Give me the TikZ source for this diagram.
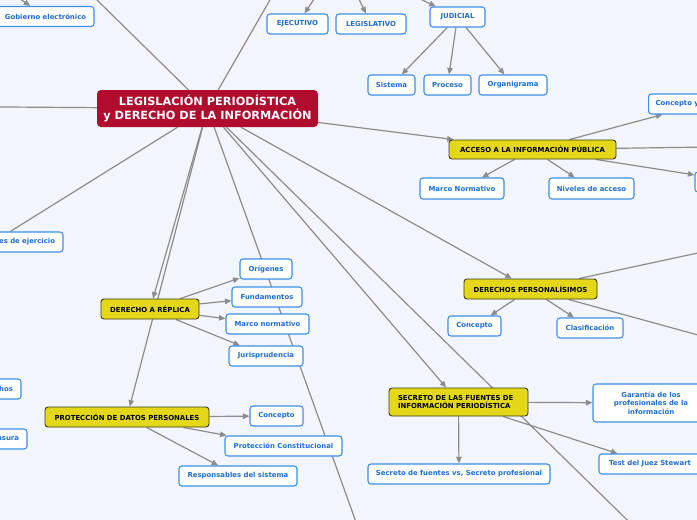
\documentclass[tikz,border=0pt]{standalone}
\usepackage{fontspec}
\setmainfont{DejaVu Sans}
\usetikzlibrary{arrows.meta,backgrounds}
\definecolor{bgc}{HTML}{F2F5FE}
\definecolor{edgec}{HTML}{8C8C8C}
\definecolor{bluebd}{HTML}{3D8EEA}
\definecolor{bluetx}{HTML}{1C6ED6}
\definecolor{yellowf}{HTML}{E3D718}
\definecolor{yellowbd}{HTML}{3C3A1A}
\definecolor{mainf}{HTML}{B00C2D}
\tikzset{
  leaf/.style={draw=bluebd, line width=1.1pt, fill=white, rounded corners=3pt, text=bluetx,
    font=\fontsize{6.9}{8.6}\selectfont\bfseries, inner sep=0pt, minimum height=20pt},
  topic/.style={fill=yellowf, draw=yellowbd, line width=0.9pt, rounded corners=3pt, text=black,
    font=\fontsize{6.9}{8.6}\selectfont\bfseries, inner sep=0pt, minimum height=20pt},
  root/.style={fill=mainf, rounded corners=4pt, text=white, font=\fontsize{11.3}{13.8}\selectfont\bfseries,
    align=center, inner sep=0pt, minimum width=221pt, minimum height=37pt},
  conn/.style={draw=edgec, line width=1.2pt},
  arr/.style={conn, -{Triangle[length=6.5pt,width=5.5pt]}},
}
\begin{document}
\begin{tikzpicture}[x=1pt,y=-1pt]
\useasboundingbox (0,0) rectangle (697,520);
\begin{scope}
\clip (0,0) rectangle (697,520);
% root
\node[root] (main) at (207.5,108.5) {\rule{0pt}{9pt}LEGISLACIÓN PERIODÍSTICA\\y DERECHO DE LA INFORMACIÓN};
% top area
\node[leaf, minimum width=97pt] (gob) at (45.5,16.5) {Gobierno electrónico};
\node[leaf, minimum width=61pt] (ejec) at (297.5,24) {EJECUTIVO};
\node[leaf, minimum width=70pt] (legis) at (371,24) {LEGISLATIVO};
\node[leaf, minimum width=55pt] (judicial) at (457.5,17) {JUDICIAL};
\node[leaf, minimum width=47pt] (sistema) at (391.5,85) {Sistema};
\node[leaf, minimum width=47pt] (proceso) at (447.5,85) {Proceso};
\node[leaf, minimum width=68pt] (organigrama) at (513,85) {Organigrama};
% acceso
\node[topic, minimum width=167pt, minimum height=19pt] (acceso) at (532.5,149.5) {ACCESO A LA INFORMACIÓN PÚBLICA};
\node[leaf, anchor=west, text width=92pt, align=left, inner xsep=7pt, minimum width=106pt] (conceptoY) at (648,104) {Concepto y};
\node[leaf, minimum width=84pt, minimum height=21pt] (marcoN) at (462,188.5) {Marco Normativo};
\node[leaf, minimum width=85pt, minimum height=21pt] (niveles) at (591.5,188.5) {Niveles de acceso};
\node[leaf, minimum width=90pt] (offR) at (740,182) {};
% left side
\node[leaf, text width=123pt, align=right, inner xsep=8pt] (esEj) at (-6.5,242) {es de ejercicio};
\node[leaf, text width=64pt, align=right, inner xsep=8pt] (hos) at (-19,389) {hos};
\node[leaf, text width=64pt, align=right, inner xsep=8pt] (nsura) at (-13,439) {nsura};
% derechos personalisimos
\node[topic, minimum width=133pt] (derechos) at (530.5,289) {DERECHOS PERSONALÍSIMOS};
\node[leaf, minimum width=53pt] (concepto2) at (474.5,326) {Concepto};
\node[leaf, minimum width=66pt] (clasif) at (590,328) {Clasificación};
% replica
\node[topic, minimum width=98pt] (replica) at (150,309) {DERECHO A RÉPLICA};
\node[leaf, minimum width=52pt] (origenes) at (266,269) {Orígenes};
\node[leaf, minimum width=70pt] (fund) at (267,297) {Fundamentos};
\node[leaf, minimum width=83pt] (marcon2) at (267.5,324) {Marco normativo};
\node[leaf, minimum width=74pt] (juris) at (266,356) {Jurisprudencia};
% proteccion
\node[topic, minimum width=164pt] (protec) at (127,417) {PROTECCIÓN DE DATOS PERSONALES};
\node[leaf, minimum width=53pt] (concepto3) at (276.5,416) {Concepto};
\node[leaf, minimum width=117pt] (protConst) at (283.5,446) {Protección Constitucional};
\node[leaf, minimum width=118pt] (resp) at (238,476) {Responsables del sistema};
% secreto
\node[topic, text width=121pt, align=left, inner xsep=9pt, minimum height=28pt] (secreto) at (458.5,402) {SECRETO DE LAS FUENTES DE\\INFORMACIÓN PERIODÍSTICA};
\node[leaf, minimum width=116pt, minimum height=38pt, align=center] (garantia) at (651,403) {Garantía de los\\profesionales de la\\información};
\node[leaf, minimum width=182pt] (secVs) at (459,474) {Secreto de fuentes vs, Secreto profesional};
\node[leaf, minimum width=102pt] (test) at (650,464) {Test del Juez Stewart};
% off-canvas ends
\coordinate (ulP) at (-13.5,-108.5);
\coordinate (urP) at (301,-54);
\coordinate (leftP) at (-60,106.5);
\coordinate (botP) at (370,561);
\coordinate (brP) at (669,561);
\coordinate (poderes) at (340,-40);
\coordinate (gobP) at (0,-15);
\coordinate (accR) at (780,146);
\coordinate (derUR) at (800,231);
\coordinate (derDR) at (800,363);
\end{scope}
\begin{pgfonlayer}{background}
\clip (0,0) rectangle (697,520);
\fill[bgc] (0,0) rectangle (697,520);
% root connectors
\draw[conn] (main) -- (ulP);
\draw[conn] (main) -- (urP);
\draw[conn] (main) -- (leftP);
\draw[conn] (main) -- (botP);
\draw[conn] (main) -- (brP);
\draw[conn] (main) -- (esEj);
\draw[arr] (main) -- (acceso);
\draw[arr] (main) -- (derechos);
\draw[arr] (main) -- (secreto);
\draw[arr] (main) -- (replica);
\draw[arr] (main) -- (protec);
% top
\draw[arr] (gobP) -- (gob);
\draw[arr] (poderes) -- (ejec);
\draw[arr] (poderes) -- (legis);
\draw[arr] (poderes) -- (judicial);
\draw[arr] (judicial) -- (sistema);
\draw[arr] (judicial) -- (proceso);
\draw[arr] (judicial) -- (organigrama);
% acceso
\draw[arr] (acceso) -- (conceptoY);
\draw[arr] (acceso) -- (marcoN);
\draw[arr] (acceso) -- (niveles);
\draw[arr] (acceso) -- (offR);
\draw[arr] (acceso) -- (accR);
% derechos
\draw[arr] (derechos) -- (concepto2);
\draw[arr] (derechos) -- (clasif);
\draw[arr] (derechos) -- (derUR);
\draw[arr] (derechos) -- (derDR);
% replica
\draw[arr] (replica) -- (origenes);
\draw[arr] (replica) -- (fund);
\draw[arr] (replica) -- (marcon2);
\draw[arr] (replica) -- (juris);
% proteccion
\draw[arr] (protec) -- (concepto3);
\draw[arr] (protec) -- (protConst);
\draw[arr] (protec) -- (resp);
% secreto
\draw[arr] (secreto) -- (garantia);
\draw[arr] (secreto) -- (secVs);
\draw[arr] (secreto) -- (test);
\end{pgfonlayer}
\end{tikzpicture}
\end{document}
